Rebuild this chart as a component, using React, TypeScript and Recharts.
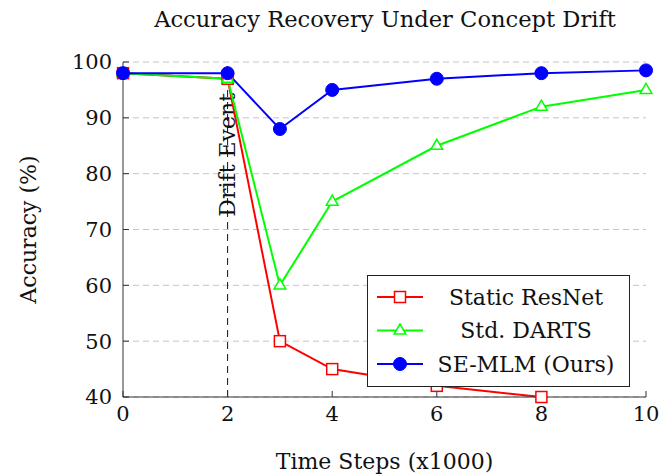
import React from 'react';
import { LineChart, Line, XAxis, YAxis, CartesianGrid, ReferenceLine, Legend } from 'recharts';

const steps = [0, 2, 3, 4, 6, 8, 10];
const staticResNet: (number | null)[] = [98, 97, 50, 45, 42, 40, null];
const stdDarts = [98, 97, 60, 75, 85, 92, 95];
const seMlm = [98, 98, 88, 95, 97, 98, 98.5];
const xTicks = [0, 2, 4, 6, 8, 10];
const yTicks = [40, 50, 60, 70, 80, 90, 100];
const driftStep = 2;
const seriesKeys = ['resnet', 'darts', 'semlm'];
const seriesNames = { resnet: 'Static ResNet', darts: 'Std. DARTS', semlm: 'SE-MLM (Ours)' };
const seriesColors = { resnet: '#ff0000', darts: '#00ff00', semlm: '#0000ff' };

const data = steps.map((s, i) => ({ step: s, resnet: staticResNet[i], darts: stdDarts[i], semlm: seMlm[i] }));

const FONT = '"DejaVu Serif", serif';
const W = 662;
const H = 474;

const Square = (props: any) => {
  const { cx, cy, stroke, index } = props;
  if (cx == null || cy == null || props.value == null) return <g key={`sq-${index}`} />;
  return <rect key={`sq-${index}`} x={cx - 5.5} y={cy - 5.5} width={11} height={11} fill="#fff" stroke={stroke} strokeWidth={1.5} />;
};
const Tri = (props: any) => {
  const { cx, cy, stroke, index } = props;
  if (cx == null || cy == null) return <g key={`tr-${index}`} />;
  const r = 6.5;
  const pts = `${cx},${cy - r} ${cx - r * 0.9},${cy + r * 0.55} ${cx + r * 0.9},${cy + r * 0.55}`;
  return <polygon key={`tr-${index}`} points={pts} fill="#fff" stroke={stroke} strokeWidth={1.5} />;
};
const Circ = (props: any) => {
  const { cx, cy, stroke, index } = props;
  if (cx == null || cy == null) return <g key={`ci-${index}`} />;
  return <circle key={`ci-${index}`} cx={cx} cy={cy} r={6.5} fill={stroke} stroke={stroke} strokeWidth={1} />;
};

const markerFor = (key: string, cx: number, cy: number, color: string) => {
  if (key === 'resnet') return <Square cx={cx} cy={cy} stroke={color} value={1} index={0} />;
  if (key === 'darts') return <Tri cx={cx} cy={cy} stroke={color} index={0} />;
  return <Circ cx={cx} cy={cy} stroke={color} index={0} />;
};

const renderLegend = () => {
  return (
    <div style={{ width: 263, height: 112, boxSizing: 'border-box', border: '1px solid #222', background: '#fff' }}>
      <svg width={261} height={110} style={{ display: 'block' }}>
        {seriesKeys.map((key: string, i: number) => {
          const color = (seriesColors as any)[key];
          const cy = 21 + i * 33.5;
          return (
            <g key={key}>
              <line x1={9} x2={55} y1={cy} y2={cy} stroke={color} strokeWidth={2} />
              {markerFor(key, 32, cy, color)}
              <text x={158} y={cy} textAnchor="middle" dominantBaseline="central" fontFamily={FONT} fontSize={22} fill="#111">
                {(seriesNames as any)[key]}
              </text>
            </g>
          );
        })}
      </svg>
    </div>
  );
};

const EmptyTick = () => <g />;

export default function App() {
  return (
    <div style={{ position: 'absolute', left: 0, top: 0, width: W, height: H, background: '#fff' }}>
      <div style={{ position: 'absolute', left: 0, top: 6, width: 770, textAlign: 'center', fontFamily: FONT, fontSize: 22.6, lineHeight: '26px', color: '#111', zIndex: 2 }}>
        Accuracy Recovery Under Concept Drift
      </div>
      <LineChart width={W} height={H} data={data} margin={{ top: 62, right: 16, left: 0, bottom: 0 }}>
        <CartesianGrid vertical={false} stroke="#c4c4c4" strokeDasharray="6 4" />
        <XAxis
          dataKey="step"
          type="number"
          domain={[0, 10]}
          ticks={xTicks}
          height={77}
          stroke="#333"
          tickSize={-6}
          tickMargin={15}
          tick={{ fill: '#111', fontFamily: FONT, fontSize: 21 }}
          label={{
            content: (lp: any) => {
              const vb = lp.viewBox || { x: 123, y: 397, width: 523, height: 77 };
              return (
                <text x={vb.x + vb.width / 2} y={vb.y + 72} textAnchor="middle" fontFamily={FONT} fontSize={22} fill="#111">
                  Time Steps (x1000)
                </text>
              );
            },
          }}
        />
        <XAxis xAxisId="top" orientation="top" dataKey="step" type="number" domain={[0, 10]} ticks={xTicks} height={0} stroke="#333" tickSize={-6} tick={EmptyTick} />
        <YAxis
          type="number"
          domain={[40, 100]}
          ticks={yTicks}
          width={123}
          stroke="#333"
          tickSize={-6}
          tickMargin={17}
          tick={{ fill: '#111', fontFamily: FONT, fontSize: 21 }}
          label={{
            content: (lp: any) => {
              const vb = lp.viewBox || { x: 0, y: 62, width: 123, height: 335 };
              const cx = vb.x + 28;
              const cy = vb.y + vb.height / 2;
              return (
                <text x={cx} y={cy} transform={`rotate(-90, ${cx}, ${cy})`} textAnchor="middle" dominantBaseline="central" fontFamily={FONT} fontSize={22} fill="#111">
                  Accuracy (%)
                </text>
              );
            },
          }}
        />
        <YAxis yAxisId="right" orientation="right" type="number" domain={[40, 100]} ticks={yTicks} width={0} stroke="#333" tickSize={-6} tick={EmptyTick} />
        <ReferenceLine
          x={driftStep}
          stroke="#111"
          strokeWidth={1}
          strokeDasharray="7 5"
          label={{
            content: (lp: any) => {
              const vb = lp.viewBox || { x: 228, y: 62, width: 0, height: 335 };
              const cx = vb.x;
              const cy = vb.y + vb.height * 0.277;
              return (
                <text x={cx} y={cy} transform={`rotate(-90, ${cx}, ${cy})`} textAnchor="middle" dominantBaseline="central" fontFamily={FONT} fontSize={22} fill="#111">
                  Drift Event
                </text>
              );
            },
          }}
        />
        <Legend
          layout="horizontal"
          verticalAlign="middle"
          align="center"
          content={renderLegend}
          wrapperStyle={{ left: 367, top: 275, width: 263, height: 112 }}
        />
        <Line dataKey="resnet" name={seriesNames.resnet} stroke={seriesColors.resnet} strokeWidth={2} dot={Square} activeDot={false} isAnimationActive={false} />
        <Line dataKey="darts" name={seriesNames.darts} stroke={seriesColors.darts} strokeWidth={2} dot={Tri} activeDot={false} isAnimationActive={false} />
        <Line dataKey="semlm" name={seriesNames.semlm} stroke={seriesColors.semlm} strokeWidth={2} dot={Circ} activeDot={false} isAnimationActive={false} />
      </LineChart>
    </div>
  );
}
